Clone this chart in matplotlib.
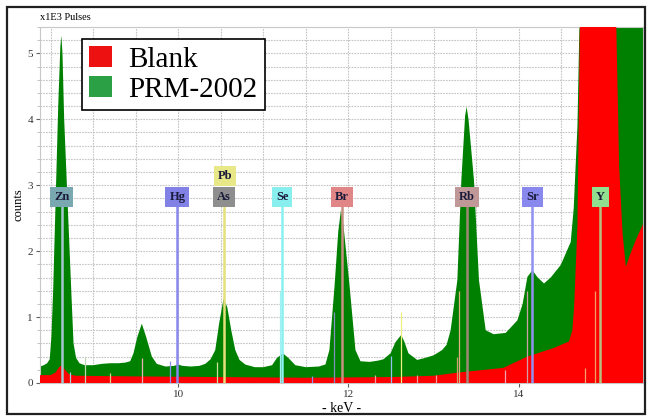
import numpy as np
import matplotlib.pyplot as plt
from matplotlib.patches import Patch, Rectangle
from matplotlib.ticker import MultipleLocator

# spectrum (keV, counts x1E3)
prm_kev = [8.376, 8.42, 8.46, 8.49, 8.51, 8.53, 8.556, 8.59, 8.615, 8.627, 8.64, 8.66, 8.705, 8.744,
           8.77, 8.80, 8.84, 8.9, 9.0, 9.1, 9.2, 9.3, 9.38, 9.435, 9.474, 9.52, 9.572, 9.623, 9.69,
           9.749, 9.85, 9.95, 10.0, 10.05, 10.15, 10.25, 10.317, 10.38, 10.435, 10.48, 10.533,
           10.576, 10.623, 10.67, 10.72, 10.788, 10.9, 11.0, 11.102, 11.16, 11.23, 11.294, 11.376,
           11.5, 11.65, 11.729, 11.776, 11.838, 11.88, 11.911, 11.94, 12.011, 12.082, 12.141,
           12.25, 12.35, 12.411, 12.494, 12.552, 12.62, 12.658, 12.705, 12.807, 12.9, 13.0, 13.1,
           13.153, 13.2, 13.279, 13.326, 13.37, 13.388, 13.41, 13.474, 13.533, 13.612, 13.706,
           13.847, 13.984, 14.046, 14.102, 14.161, 14.223, 14.297, 14.376, 14.494, 14.611,
           14.646, 14.69, 14.729, 15.47]
prm_counts = [0.25, 0.27, 0.3, 0.36, 0.7, 1.38, 2.6, 4.2, 5.1, 5.27, 5.0, 4.0, 2.6, 1.38,
              0.6, 0.38, 0.3, 0.27, 0.27, 0.29, 0.3, 0.3, 0.31, 0.33, 0.45, 0.7, 0.9, 0.7, 0.4,
              0.29, 0.25, 0.26, 0.28, 0.26, 0.25, 0.26, 0.29, 0.36, 0.5, 0.9, 1.28,
              1.15, 0.8, 0.5, 0.35, 0.28, 0.24, 0.24, 0.27, 0.38, 0.45, 0.38, 0.27,
              0.24, 0.25, 0.28, 0.5, 1.5, 2.3, 2.62, 2.4, 1.5, 0.5, 0.33,
              0.32, 0.34, 0.36, 0.45, 0.62, 0.73, 0.62, 0.45, 0.35, 0.38, 0.42, 0.5,
              0.58, 0.8, 1.56, 3.08, 4.05, 4.19, 4.0, 3.08, 1.56, 0.8, 0.74,
              0.76, 0.95, 1.2, 1.61, 1.71, 1.6, 1.51, 1.6, 1.79, 2.14,
              2.65, 3.9, 6.5, 6.5]

blank_kev = [8.376, 8.5, 8.56, 8.6, 8.63, 8.67, 8.72, 8.8, 9.5, 10.5, 11.5, 12.5, 13.0, 13.3,
             13.6, 13.82, 14.1, 14.41, 14.59, 14.63, 14.65, 14.69, 14.729, 15.129, 15.18,
             15.22, 15.259, 15.297, 15.376, 15.47]
blank_counts = [0.12, 0.12, 0.16, 0.24, 0.27, 0.2, 0.13, 0.11, 0.1, 0.09, 0.08, 0.09, 0.11, 0.16,
                0.2, 0.23, 0.4, 0.53, 0.63, 0.8, 1.13, 2.39, 6.5, 6.5, 3.28,
                2.27, 1.76, 1.91, 2.17, 2.44]

# element markers
elements = ['Zn', 'Hg', 'As', 'Pb', 'Se', 'Br', 'Rb', 'Sr', 'Y']
element_kev = [8.63, 9.99, 10.54, 10.55, 11.22, 11.92, 13.39, 14.16, 14.96]
box_colors = ['#7aa8b0', '#8282e6', '#8e8e8e', '#e8e888', '#88eeee', '#e08686', '#c09898', '#8888ee', '#90e090']
line_colors = ['#a4c8d0', '#8888ee', '#e6e07a', '#e6e07a', '#88f0f0', '#c89080', '#a08878', '#9090f0', '#b8c080']

# thin escape/sum lines
minor_kev = [8.725, 8.90, 9.196, 9.575, 9.905, 10.455, 11.19, 11.573, 11.826, 12.31, 12.505,
             12.62, 12.81, 13.023, 13.28, 13.30, 13.84, 14.10, 14.78, 14.894]
minor_top = [0.17, 0.40, 0.15, 0.38, 0.33, 0.32, 1.40, 0.10, 1.08, 0.12, 0.41,
             1.08, 0.12, 0.12, 0.40, 1.40, 0.20, 1.40, 0.22, 1.40]
minor_colors = ['#a8d0d8', '#c0d8b0', '#e0d090', '#e8b0b0', '#9090f0', '#d0e0a0', '#a0f0f0', '#9090f0',
                '#8090c0', '#f0a0a0', '#90c0f0', '#f0f080', '#f0a0a0', '#f0a0a0', '#d0a070', '#e0b080',
                '#f0a0b0', '#d0a0a8', '#f0a070', '#f0a060']

serif = 'Liberation Serif'

fig = plt.figure(figsize=(6.48, 4.17), dpi=100)
ax = fig.add_axes([40 / 648, 1 - 383 / 417, 603 / 648, 356 / 417])

ax.fill_between(prm_kev, 0, prm_counts, color='#008000', lw=0, zorder=2)
ax.fill_between(blank_kev, 0, blank_counts, color='#ff0000', lw=0, zorder=3)

ax.vlines(minor_kev, 0, minor_top, colors=minor_colors, lw=0.9, zorder=4)

for name, kev, bc, lc in zip(elements, element_kev, box_colors, line_colors):
    yc = 3.14 if name == 'Pb' else 2.82
    if name != 'Pb':
        ax.vlines(kev, 0, 2.7, colors=lc, lw=1.8, zorder=5)
    ax.text(kev, yc, name, ha='center', va='center', fontsize=9, fontweight='bold',
            family=serif, color='#1a1a3a', zorder=6,
            bbox=dict(boxstyle='square,pad=0.32', fc=bc, ec='none'))

ax.set_xlim(8.376, 15.46)
ax.set_ylim(0, 5.4)
ax.xaxis.set_major_locator(plt.FixedLocator([10, 12, 14]))
ax.xaxis.set_minor_locator(MultipleLocator(0.5))
ax.yaxis.set_major_locator(MultipleLocator(1))
ax.yaxis.set_minor_locator(MultipleLocator(0.2))
ax.grid(which='both', color='#c4c4c4', lw=0.8, ls=(0, (1.5, 1)))
ax.set_axisbelow(True)
for s in ax.spines.values():
    s.set_color('#c8c8c8')
    s.set_linestyle((0, (1.5, 1)))
    s.set_linewidth(0.8)
ax.tick_params(which='major', length=3, color='#606060', labelsize=8, labelcolor='#333333', pad=2)
ax.tick_params(which='minor', length=2, color='#b8b8b8')
ax.tick_params(axis='x', which='minor', length=0)
for lab in ax.get_xticklabels() + ax.get_yticklabels():
    lab.set_family(serif)

ax.set_xlabel('- keV -', family=serif, fontsize=10, labelpad=2)
ax.set_ylabel('counts', family=serif, fontsize=9, labelpad=2)
fig.text(40 / 648, 1 - 18 / 417, 'x1E3 Pulses', family=serif, fontsize=7.5, va='center', ha='left')

leg = ax.legend(handles=[Patch(fc='#ee1111', label='Blank'), Patch(fc='#2ba044', label='PRM-2002')],
                loc='upper left', bbox_to_anchor=(0.0697, 0.966), prop=dict(family=serif, size=21),
                fancybox=False, edgecolor='black', framealpha=1, handlelength=0.78, handleheight=0.7,
                handletextpad=0.55, borderpad=0.25, labelspacing=0.12, borderaxespad=0)
leg.get_frame().set_linewidth(1.2)
leg.set_zorder(10)

fig.patches.append(Rectangle((7 / 648, 1 - 414 / 417), 638 / 648, 407 / 417, transform=fig.transFigure,
                             fill=False, ec='#202020', lw=1.6))

fig.savefig('out.png', dpi=100)
